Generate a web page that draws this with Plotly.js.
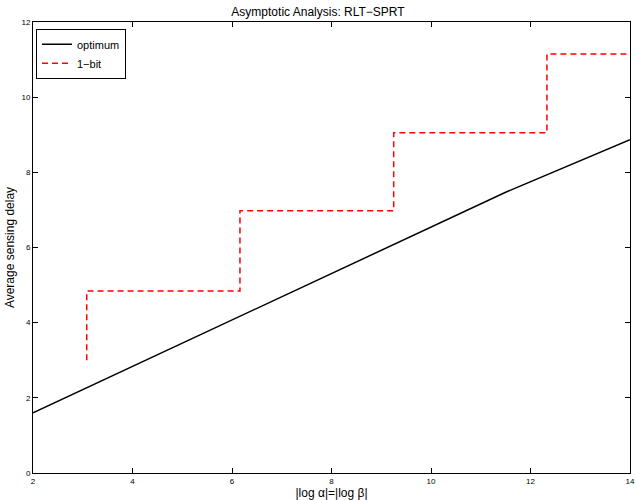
<!DOCTYPE html>
<html>
<head>
<meta charset="utf-8">
<script src="https://cdn.plot.ly/plotly-3.0.1.min.js"></script>
<style>html,body{margin:0;padding:0;background:#fff;}#chart{width:636px;height:500px;}</style>
</head>
<body>
<div id="chart"></div>
<script>
// optimum curve
const optX = [2, 11.5, 14];
const optY = [1.6, 7.47, 8.87];
// 1-bit staircase (corner points)
const bitX = [3.08, 3.08, 6.16, 6.16, 9.25, 9.25, 12.33, 12.33, 14];
const bitY = [3.0, 4.84, 4.84, 6.98, 6.98, 9.05, 9.05, 11.15, 11.15];
const xTicks = [2, 4, 6, 8, 10, 12, 14];
const yTicks = [0, 2, 4, 6, 8, 10, 12];

const font = 'Liberation Sans, Arial, sans-serif';
const traces = [
  {x: optX, y: optY, mode: 'lines', name: 'optimum', line: {color: '#000', width: 1.5}},
  {x: bitX, y: bitY, mode: 'lines', name: '1\u2212bit', line: {color: '#ff0000', width: 1.5, dash: '6px,4px'}}
];
const axisCommon = {
  showgrid: false, zeroline: false, showline: true, linecolor: '#000', linewidth: 1,
  mirror: 'ticks', ticks: 'inside', ticklen: 5, tickcolor: '#000',
  tickfont: {family: font, size: 8, color: '#000'}
};
const layout = {
  width: 636, height: 500,
  margin: {l: 33, r: 6, t: 22, b: 27},
  paper_bgcolor: '#fff', plot_bgcolor: '#fff',
  title: {text: 'Asymptotic Analysis: RLT\u2212SPRT', font: {family: font, size: 12, color: '#000'}, x: 0.5, xanchor: 'center', y: 0.976, yanchor: 'middle'},
  xaxis: Object.assign({}, axisCommon, {range: [2, 14], tickvals: xTicks, ticktext: xTicks.map(String),
    title: {text: '|log \u03b1|=|log \u03b2|', font: {family: font, size: 12, color: '#000'}, standoff: 1}}),
  yaxis: Object.assign({}, axisCommon, {range: [0, 12], tickvals: yTicks, ticktext: yTicks.map(String),
    title: {text: 'Average sensing delay', font: {family: font, size: 12, color: '#000'}, standoff: 4}}),
  showlegend: true,
  legend: {x: 0.005, y: 0.985, xanchor: 'left', yanchor: 'top', bgcolor: '#fff', bordercolor: '#000', borderwidth: 1,
    font: {family: font, size: 11, color: '#000'}, tracegroupgap: 0, itemwidth: 30, entrywidth: 50, entrywidthmode: 'pixels'}
};
Plotly.newPlot('chart', traces, layout, {displayModeBar: false, staticPlot: true});
</script>
</body>
</html>
